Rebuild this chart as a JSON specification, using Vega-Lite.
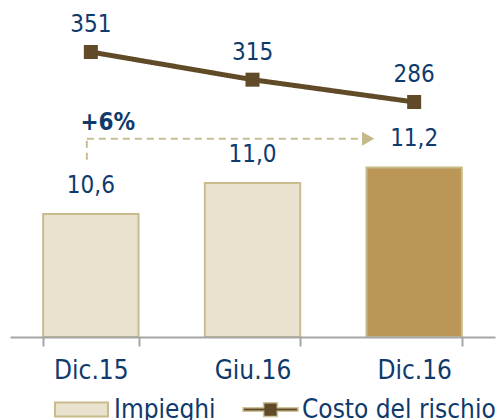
{
  "$schema": "https://vega.github.io/schema/vega-lite/v6.json",
  "width": 485,
  "height": 337,
  "autosize": {"type": "none"},
  "padding": {"left": 10, "top": 0, "right": 4, "bottom": 83},
  "background": "white",
  "config": {
    "view": {"stroke": null},
    "font": "DejaVu Sans Condensed, Liberation Sans, sans-serif",
    "text": {"font": "DejaVu Sans Condensed, Liberation Sans, sans-serif"},
    "legend": {"labelFont": "DejaVu Sans Condensed, Liberation Sans, sans-serif", "labelFontSize": 26, "labelColor": "#0E3A6C", "labelOffset": 5, "labelLimit": 400, "title": null}
  },
  "datasets": {
    "serie": [
      {"periodo": "Dic.15", "impieghi": 10.6, "impieghi_testo": "10,6", "costo": 351, "costo_testo": "351"},
      {"periodo": "Giu.16", "impieghi": 11.0, "impieghi_testo": "11,0", "costo": 315, "costo_testo": "315"},
      {"periodo": "Dic.16", "impieghi": 11.2, "impieghi_testo": "11,2", "costo": 286, "costo_testo": "286"}
    ],
    "freccia": [
      {"da": "Dic.15", "a": "Dic.16", "base": 11.3, "livello": 11.57, "testo": "+6%"}
    ]
  },
  "resolve": {"scale": {"y": "independent"}},
  "layer": [
    {
      "layer": [
        {
          "data": {"name": "serie"},
          "mark": {"type": "bar", "strokeWidth": 2},
          "encoding": {
            "x": {"field": "periodo", "type": "nominal", "sort": null,
              "scale": {"domain": ["Dic.15", "Giu.16", "Dic.16"], "paddingInner": 0.41, "paddingOuter": 0.205},
              "axis": {"title": null, "labelAngle": 0, "domainColor": "#A6A6A6", "domainWidth": 2, "ticks": true, "tickColor": "#A6A6A6", "tickWidth": 2, "tickSize": 9, "tickBand": "extent", "tickExtra": true, "labelFontSize": 26, "labelColor": "#0E3A6C", "labelPadding": 11, "labelFont": "DejaVu Sans Condensed, Liberation Sans, sans-serif", "zindex": 1}},
            "y": {"field": "impieghi", "type": "quantitative", "scale": {"domain": [9.013, 13.36], "zero": false, "nice": false, "clamp": true}, "axis": null},
            "fill": {"condition": {"test": "datum.periodo === 'Dic.16'", "value": "#BC9656"}, "value": "#E8E2CF"},
            "stroke": {"datum": "Impieghi", "type": "nominal",
              "scale": {"domain": ["Impieghi"], "range": ["#C9BB8B"]},
              "legend": {
                "orient": "none", "legendX": 44, "legendY": 382, "direction": "horizontal",
                "symbolSize": 2809, "symbolType": "M-1,-0.264H1V0.264H-1Z",
                "symbolFillColor": "#E8E2CF", "symbolStrokeWidth": 2
              }}
          }
        },
        {
          "data": {"name": "serie"},
          "mark": {"type": "text", "fontSize": 24, "color": "#0E3A6C", "dy": -28, "baseline": "middle"},
          "encoding": {
            "x": {"field": "periodo", "type": "nominal", "sort": null},
            "y": {"field": "impieghi", "type": "quantitative"},
            "text": {"field": "impieghi_testo"}
          }
        },
        {
          "data": {"name": "freccia"},
          "mark": {"type": "rule", "color": "#C9BE93", "strokeWidth": 2, "strokeDash": [7, 5], "xOffset": -4},
          "encoding": {
            "x": {"field": "da", "type": "nominal"},
            "y": {"field": "base", "type": "quantitative"},
            "y2": {"field": "livello"}
          }
        },
        {
          "data": {"name": "freccia"},
          "mark": {"type": "rule", "color": "#C9BE93", "strokeWidth": 2, "strokeDash": [7, 5], "xOffset": -4, "x2Offset": -52},
          "encoding": {
            "x": {"field": "da", "type": "nominal"},
            "x2": {"field": "a"},
            "y": {"field": "livello", "type": "quantitative"}
          }
        },
        {
          "data": {"name": "freccia"},
          "mark": {"type": "point", "shape": "triangle-right", "filled": true, "color": "#C5B98A", "size": 200, "opacity": 1, "xOffset": -46},
          "encoding": {
            "x": {"field": "a", "type": "nominal"},
            "y": {"field": "livello", "type": "quantitative"}
          }
        },
        {
          "data": {"name": "freccia"},
          "mark": {"type": "text", "fontSize": 24, "fontWeight": "bold", "color": "#0E3A6C", "dy": -16, "xOffset": 17, "baseline": "middle"},
          "encoding": {
            "x": {"field": "da", "type": "nominal"},
            "y": {"field": "livello", "type": "quantitative"},
            "text": {"field": "testo"}
          }
        }
      ]
    },
    {
      "data": {"name": "serie"},
      "layer": [
        {
          "mark": {"type": "line", "color": "#614A28", "strokeWidth": 5},
          "encoding": {
            "x": {"field": "periodo", "type": "nominal", "sort": null},
            "y": {"field": "costo", "type": "quantitative", "scale": {"domain": [-19.6, 418.6], "zero": false, "nice": false}, "axis": null},
            "strokeDash": {"datum": "Costo del rischio", "type": "nominal",
              "scale": {"domain": ["Costo del rischio"], "range": [[1, 0]]},
              "legend": {
                "orient": "none", "legendX": 232, "legendY": 381, "direction": "horizontal",
                "symbolSize": 3025, "labelOffset": 3,
                "symbolType": "M-1,-0.06H-0.25V-0.25H0.25V-0.06H1V0.06H0.25V0.25H-0.25V0.06H-1Z",
                "symbolFillColor": "#614A28", "symbolStrokeColor": "#CFC39B", "symbolStrokeWidth": 1.5
              }}
          }
        },
        {
          "mark": {"type": "square", "filled": true, "color": "#614A28", "size": 196, "opacity": 1},
          "encoding": {
            "x": {"field": "periodo", "type": "nominal", "sort": null},
            "y": {"field": "costo", "type": "quantitative"}
          }
        },
        {
          "mark": {"type": "text", "fontSize": 24, "color": "#0E3A6C", "dy": -27, "baseline": "middle"},
          "encoding": {
            "x": {"field": "periodo", "type": "nominal", "sort": null},
            "y": {"field": "costo", "type": "quantitative"},
            "text": {"field": "costo_testo"}
          }
        }
      ]
    }
  ]
}
